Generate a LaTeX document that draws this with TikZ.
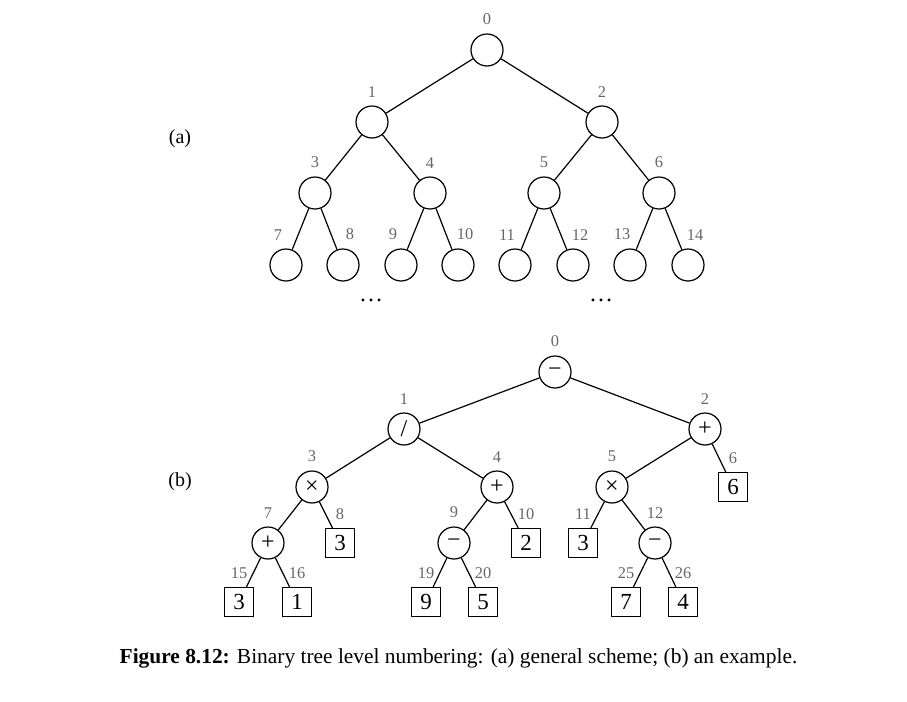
\documentclass[tikz,border=0pt]{standalone}
\usepackage{fontspec}
\setmainfont{Liberation Serif}
\usepackage{tikz}
\usetikzlibrary{positioning}

\tikzset{
  tnode/.style={circle, draw, line width=0.6pt, minimum size=16pt, inner sep=0pt, font=\fontsize{12}{14}\selectfont},
  leafbox/.style={rectangle, draw, line width=0.6pt, minimum size=14.5pt, inner sep=0pt, font=\fontsize{11.5}{13}\selectfont},
  num/.style={text=black!60, font=\fontsize{8.2}{10}\selectfont, label distance=0.6pt},
  edge/.style={line width=0.6pt}
}

\begin{document}
\begin{tikzpicture}[x=0.5pt, y=-0.5pt]

  \useasboundingbox (0,0) rectangle (907,702);

  % (a) general scheme
  \node[anchor=base, font=\fontsize{10}{12}\selectfont] (tagA) at (180,143) {(a)};

  \node[tnode, label={[num]above:0}] (a0) at (487,50) {};
  \node[tnode, label={[num]above:1}] (a1) at (372,122) {};
  \node[tnode, label={[num]above:2}] (a2) at (602,122) {};
  \node[tnode, label={[num]above:3}] (a3) at (315,193) {};
  \node[tnode, label={[num]above:4}] (a4) at (430,193) {};
  \node[tnode, label={[num]above:5}] (a5) at (544,193) {};
  \node[tnode, label={[num]above:6}] (a6) at (659,193) {};
  \node[tnode, label={[num,xshift=-4pt]above:7}]  (a7)  at (286,265) {};
  \node[tnode, label={[num,xshift=3.5pt]above:8}]  (a8)  at (343,265) {};
  \node[tnode, label={[num,xshift=-4pt]above:9}]  (a9)  at (401,265) {};
  \node[tnode, label={[num,xshift=3.5pt]above:10}] (a10) at (458,265) {};
  \node[tnode, label={[num,xshift=-4pt]above:11}] (a11) at (515,265) {};
  \node[tnode, label={[num,xshift=3.5pt]above:12}] (a12) at (573,265) {};
  \node[tnode, label={[num,xshift=-4pt]above:13}] (a13) at (630,265) {};
  \node[tnode, label={[num,xshift=3.5pt]above:14}] (a14) at (688,265) {};

  \node[anchor=base, font=\fontsize{12}{14}\selectfont] (dotsL) at (371,301) {…};
  \node[anchor=base, font=\fontsize{12}{14}\selectfont] (dotsR) at (601,301) {…};

  \draw[edge] (a0) -- (a1) (a0) -- (a2);
  \draw[edge] (a1) -- (a3) (a1) -- (a4) (a2) -- (a5) (a2) -- (a6);
  \draw[edge] (a3) -- (a7) (a3) -- (a8) (a4) -- (a9) (a4) -- (a10);
  \draw[edge] (a5) -- (a11) (a5) -- (a12) (a6) -- (a13) (a6) -- (a14);

  % (b) an example
  \node[anchor=base, font=\fontsize{10}{12}\selectfont] (tagB) at (180,486) {(b)};

  \node[tnode, label={[num]above:0}] (b0) at (555,372) {−};
  \node[tnode, label={[num]above:1}] (b1) at (404,429) {/};
  \node[tnode, label={[num]above:2}] (b2) at (705,429) {+};
  \node[tnode, label={[num]above:3}] (b3) at (312,487) {×};
  \node[tnode, label={[num]above:4}] (b4) at (497,487) {+};
  \node[tnode, label={[num]above:5}] (b5) at (612,487) {×};
  \node[leafbox, label={[num]above:6}] (b6) at (733,487) {6};
  \node[tnode, label={[num]above:7}] (b7) at (268,543) {+};
  \node[leafbox, label={[num]above:8}] (b8) at (340,543) {3};
  \node[tnode, label={[num]above:9}] (b9) at (454,543) {−};
  \node[leafbox, label={[num]above:10}] (b10) at (526,543) {2};
  \node[leafbox, label={[num]above:11}] (b11) at (583,543) {3};
  \node[tnode, label={[num]above:12}] (b12) at (655,543) {−};
  \node[leafbox, label={[num]above:15}] (b15) at (239,602) {3};
  \node[leafbox, label={[num]above:16}] (b16) at (297,602) {1};
  \node[leafbox, label={[num]above:19}] (b19) at (426,602) {9};
  \node[leafbox, label={[num]above:20}] (b20) at (483,602) {5};
  \node[leafbox, label={[num]above:25}] (b25) at (626,602) {7};
  \node[leafbox, label={[num]above:26}] (b26) at (683,602) {4};

  \draw[edge] (b0) -- (b1) (b0) -- (b2);
  \draw[edge] (b1) -- (b3) (b1) -- (b4) (b2) -- (b5) (b2) -- (b6);
  \draw[edge] (b3) -- (b7) (b3) -- (b8) (b4) -- (b9) (b4) -- (b10);
  \draw[edge] (b5) -- (b11) (b5) -- (b12);
  \draw[edge] (b7) -- (b15) (b7) -- (b16) (b9) -- (b19) (b9) -- (b20);
  \draw[edge] (b12) -- (b25) (b12) -- (b26);

  \node[anchor=base, font=\fontsize{10.7}{13}\selectfont] (caption) at (458.5,663)
    {\textbf{Figure 8.12:} Binary tree level numbering: (a) general scheme; (b) an example.};

\end{tikzpicture}
\end{document}
